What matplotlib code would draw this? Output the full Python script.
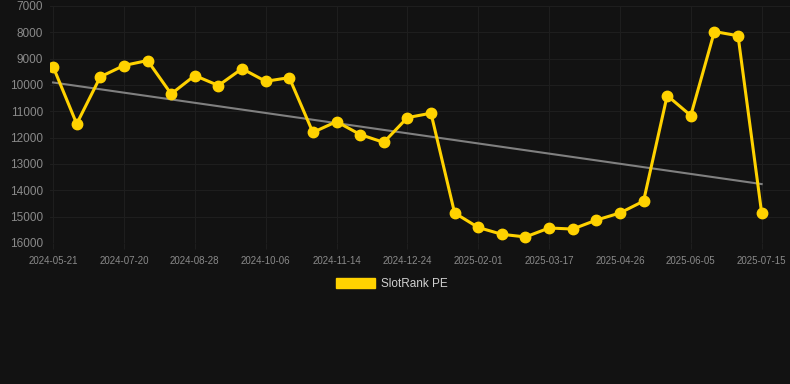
import numpy as np
import matplotlib
matplotlib.use("Agg")
import matplotlib.pyplot as plt
from matplotlib.patches import Patch

# %% data (rank, lower is better -> inverted axis)
tick_labels = ['2024-05-21', '2024-07-20', '2024-08-28', '2024-10-06',
               '2024-11-14', '2024-12-24', '2025-02-01', '2025-03-17',
               '2025-04-26', '2025-06-05', '2025-07-15']
rank = [9300, 11475, 9690, 9260, 9070, 10340, 9640, 10020, 9380, 9860,
        9720, 11800, 11390, 11880, 12180, 11240, 11070, 14860, 15410, 15670,
        15770, 15430, 15470, 15130, 14860, 14410, 10400, 11160, 7970, 8130,
        14860]
series_name = 'SlotRank PE'

bg = '#121212'
gold = '#FFD200'
plt.rcParams['font.family'] = ['Liberation Sans', 'DejaVu Sans']

x = np.arange(len(rank))
y = np.array(rank)

fig = plt.figure(figsize=(7.9, 3.84), dpi=100, facecolor=bg)
ax = fig.add_axes([50/790, 1 - 243/384, 1 - 50/790, 237/384])
ax.set_facecolor(bg)

# trend line (least squares)
k, b = np.polyfit(x, y, 1)
ax.plot(x, k*x + b, color='#808080', lw=1.5, zorder=2)

ax.plot(x, y, color=gold, lw=2.2, marker='o', ms=7.5, zorder=3)

ax.set_ylim(16000, 7000)
ax.set_yticks(np.arange(7000, 16001, 1000))
ax.set_xlim(-0.13, 31.2)
ax.set_xticks(x[::3])
ax.set_xticklabels(tick_labels)

ax.grid(True, color='#1e1e1e', lw=0.8)
for s in ax.spines.values():
    s.set_visible(False)
ax.tick_params(axis='y', length=0, labelsize=8.5, labelcolor='#8a8a8a', pad=5)
ax.tick_params(axis='x', length=4, color='#1e1e1e', labelsize=7, labelcolor='#8a8a8a', pad=5)

leg = fig.legend(handles=[Patch(color=gold, label=series_name)],
                 loc='center', bbox_to_anchor=(392/790, 1 - 284/384),
                 frameon=False, handlelength=3.3, handleheight=0.9,
                 fontsize=8.5, labelcolor='#d0d0d0', handletextpad=0.45)

fig.savefig('out.png', facecolor=bg)
